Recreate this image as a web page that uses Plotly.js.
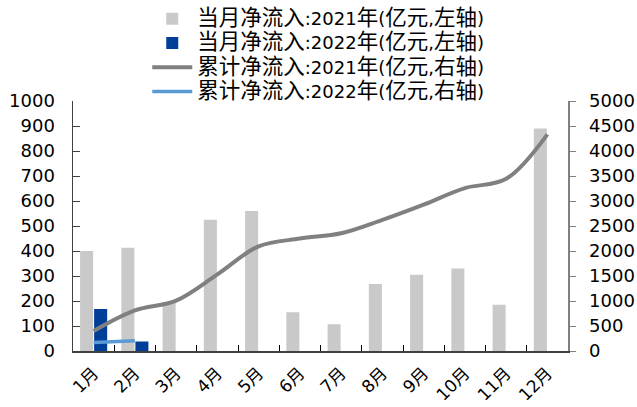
<!DOCTYPE html>
<html><head><meta charset="utf-8">
<script src="https://cdn.plot.ly/plotly-3.0.1.min.js"></script>
<style>html,body{margin:0;padding:0;background:#fff}#chart{width:637px;height:407px}</style>
</head><body><div id="chart"></div>
<script>
const months = ["1月","2月","3月","4月","5月","6月","7月","8月","9月","10月","11月","12月"];
const monthly2021 = [400, 413, 195, 525, 560, 155, 107, 268, 305, 330, 185, 890];
const monthly2022 = [168, 38];
const cum2021 = [400, 813, 1008, 1533, 2093, 2248, 2355, 2623, 2928, 3258, 3443, 4333];
const cum2022 = [168, 206];
const names = ["当月净流入:2021年(亿元,左轴)","当月净流入:2022年(亿元,左轴)","累计净流入:2021年(亿元,右轴)","累计净流入:2022年(亿元,右轴)"];

// legend text: CJK runs slightly larger, as in the reference
function legendName(s){
  return s.replace(/([\u4e00-\u9fff]+)|([^\u4e00-\u9fff]+)/g, function(m, cjk, other){
    return cjk ? '<span style="font-size:21.5px">'+cjk+'</span>' : '<span style="font-size:18px">'+other+'</span>';
  });
}

const FONT = "DejaVu Sans, Noto Sans CJK SC, sans-serif";
const traces = [
  {type:"bar", x:months, y:monthly2021, name:legendName(names[0]), marker:{color:"#C9C9C9"}, yaxis:"y"},
  {type:"bar", x:months.slice(0,monthly2022.length), y:monthly2022, name:legendName(names[1]), marker:{color:"#003F98"}, yaxis:"y"},
  {type:"scatter", mode:"lines", x:months, y:cum2021, name:legendName(names[2]), line:{color:"#808080", width:4, shape:"spline", smoothing:1}, yaxis:"y2"},
  {type:"scatter", mode:"lines", x:months.slice(0,cum2022.length), y:cum2022, name:legendName(names[3]), line:{color:"#5B9BD5", width:3.5}, yaxis:"y2"}
];
const layout = {
  width:637, height:407,
  margin:{l:73, r:69, t:101, b:56, autoexpand:false},
  paper_bgcolor:"#fff", plot_bgcolor:"#fff",
  font:{family:FONT, size:18, color:"#000"},
  barmode:"group", bargap:0.32, bargroupgap:0.07,
  showlegend:true,
  legend:{x:0.15, y:1.398, xanchor:"left", yanchor:"top", font:{size:16.4, family:FONT}, tracegroupgap:0, itemwidth:40, bgcolor:"rgba(0,0,0,0)"},
  xaxis:{type:"category", automargin:false, showline:true, linecolor:"#404040", linewidth:1.5, ticks:"inside", tickson:"boundaries", ticklen:6, tickcolor:"#000", tickangle:-45, tickfont:{size:17}, showgrid:false, zeroline:false, ticklabelstandoff:4},
  yaxis:{range:[0,1000], dtick:100, automargin:false, showline:true, linecolor:"#404040", linewidth:1.5, ticks:"inside", ticklen:7, tickcolor:"#404040", showgrid:false, zeroline:false, tickfont:{size:18}, ticklabelstandoff:13},
  yaxis2:{range:[0,5000], dtick:500, automargin:false, overlaying:"y", side:"right", showline:true, linecolor:"#808080", linewidth:1.5, ticks:"outside", ticklen:6, tickcolor:"#808080", showgrid:false, zeroline:false, tickfont:{size:18}, ticklabelstandoff:10}
};
Plotly.newPlot("chart", traces, layout, {displayModeBar:false, staticPlot:true});
</script></body></html>
